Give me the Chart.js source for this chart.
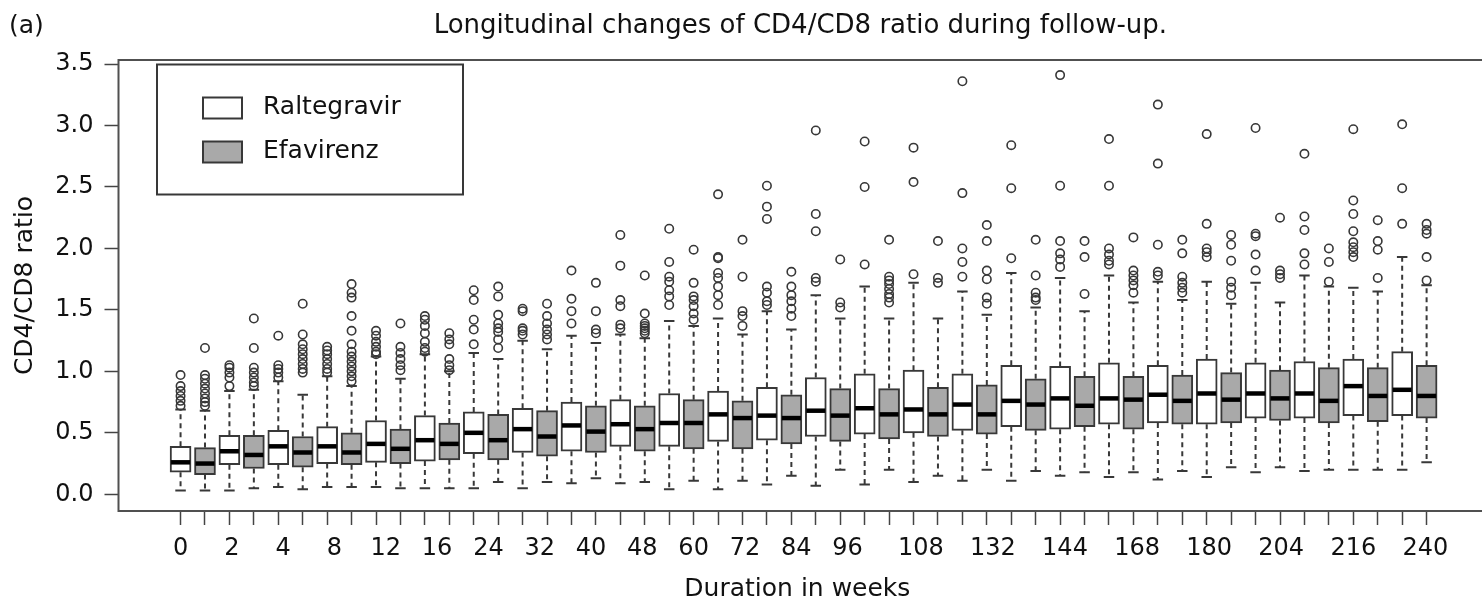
<!DOCTYPE html>
<html>
<head>
<meta charset="utf-8">
<script src="https://cdn.jsdelivr.net/npm/chart.js@4.4.1/dist/chart.umd.min.js"></script>
<style>
  html, body { margin: 0; padding: 0; background: #fff; }
  #wrap { width: 1482px; height: 605px; }
</style>
</head>
<body>
<div id="wrap"><canvas id="chart" width="1482" height="605"></canvas></div>
<script>
// CD4/CD8 ratio by week of follow-up, one box per drug per week (R style boxplot)

const weeks = [0, 2, 4, 8, 12, 16, 24, 32, 40, 48, 60, 72, 84, 96, 108, 120, 132, 144, 156, 168, 180, 192, 204, 216, 228, 240];

// labels that survived on the original axis, and where they sit (box units)
const weekLabels = ['0', '2', '4', '8', '12', '16', '24', '32', '40', '48', '60', '72', '84', '96', '108', '132', '144', '168', '180', '204', '216', '240'];
const weekLabelPos = [1.0, 3.1, 5.2, 7.3, 9.4, 11.5, 13.6, 15.7, 17.8, 19.9, 22.0, 24.1, 26.2, 28.3, 31.3, 34.25, 37.2, 40.15, 43.1, 46.05, 49.0, 51.95];

const yTicks = [0, 0.5, 1.0, 1.5, 2.0, 2.5, 3.0, 3.5];

// Raltegravir (white boxes)
const ralLow = [0.03, 0.03, 0.06, 0.06, 0.06, 0.05, 0.05, 0.05, 0.09, 0.09, 0.04, 0.04, 0.08, 0.07, 0.08, 0.10, 0.11, 0.11, 0.15, 0.14, 0.12, 0.14, 0.18, 0.19, 0.20, 0.20];
const ralQ1  = [0.18, 0.24, 0.24, 0.25, 0.26, 0.27, 0.33, 0.34, 0.35, 0.39, 0.39, 0.43, 0.44, 0.47, 0.49, 0.50, 0.52, 0.55, 0.53, 0.57, 0.58, 0.57, 0.62, 0.62, 0.64, 0.64];
const ralMed = [0.26, 0.35, 0.39, 0.39, 0.41, 0.44, 0.50, 0.53, 0.56, 0.57, 0.58, 0.65, 0.64, 0.68, 0.70, 0.69, 0.73, 0.76, 0.78, 0.78, 0.81, 0.82, 0.82, 0.82, 0.88, 0.85];
const ralQ3  = [0.39, 0.48, 0.52, 0.55, 0.60, 0.64, 0.67, 0.70, 0.75, 0.77, 0.82, 0.84, 0.87, 0.95, 0.98, 1.01, 0.98, 1.05, 1.04, 1.07, 1.05, 1.10, 1.07, 1.08, 1.10, 1.16];
const ralHigh = [0.69, 0.84, 0.92, 0.96, 1.12, 1.14, 1.15, 1.25, 1.29, 1.30, 1.41, 1.43, 1.49, 1.62, 1.69, 1.72, 1.65, 1.80, 1.76, 1.78, 1.73, 1.73, 1.72, 1.78, 1.68, 1.93];
const ralOut = [
  [0.97, 0.88, 0.84, 0.80, 0.76, 0.72],
  [1.05, 1.03, 0.99, 0.95, 0.88],
  [1.29, 1.05, 1.02, 0.99, 0.95],
  [1.20, 1.17, 1.14, 1.10, 1.06, 1.02, 0.99],
  [1.33, 1.29, 1.24, 1.20, 1.16, 1.14],
  [1.45, 1.42, 1.37, 1.31, 1.24, 1.19, 1.16],
  [1.66, 1.58, 1.42, 1.34, 1.22],
  [1.51, 1.49, 1.35, 1.33, 1.30],
  [1.82, 1.59, 1.49, 1.39],
  [2.11, 1.86, 1.58, 1.53, 1.38, 1.35],
  [2.16, 1.89, 1.77, 1.73, 1.66, 1.61, 1.54],
  [2.44, 1.93, 1.92, 1.80, 1.76, 1.69, 1.62, 1.54],
  [2.51, 2.34, 2.24, 1.69, 1.64, 1.57, 1.54],
  [2.96, 2.28, 2.14, 1.76, 1.73],
  [2.87, 2.50, 1.87],
  [2.82, 2.54, 1.79],
  [3.36, 2.45, 2.00, 1.89, 1.77],
  [2.84, 2.49, 1.92],
  [3.41, 2.51, 2.06, 1.96, 1.91, 1.85],
  [2.89, 2.51, 2.00, 1.95, 1.90, 1.87],
  [3.17, 2.69, 2.03, 1.81, 1.78],
  [2.93, 2.20, 2.00, 1.97, 1.93],
  [2.98, 2.12, 2.10, 1.95, 1.82],
  [2.77, 2.26, 2.15, 1.96, 1.87],
  [2.97, 2.39, 2.28, 2.14, 2.05, 2.01, 1.97, 1.93],
  [3.01, 2.49, 2.20]
];

// Efavirenz (grey boxes)
const efvLow = [0.03, 0.05, 0.04, 0.06, 0.05, 0.05, 0.10, 0.10, 0.13, 0.10, 0.11, 0.11, 0.15, 0.20, 0.20, 0.15, 0.20, 0.19, 0.18, 0.18, 0.19, 0.22, 0.22, 0.20, 0.20, 0.26];
const efvQ1  = [0.16, 0.21, 0.22, 0.24, 0.25, 0.28, 0.28, 0.31, 0.34, 0.35, 0.37, 0.37, 0.41, 0.43, 0.45, 0.47, 0.49, 0.52, 0.55, 0.53, 0.57, 0.58, 0.60, 0.58, 0.59, 0.62];
const efvMed = [0.25, 0.32, 0.34, 0.34, 0.37, 0.41, 0.44, 0.47, 0.51, 0.53, 0.58, 0.62, 0.62, 0.64, 0.65, 0.65, 0.65, 0.73, 0.72, 0.77, 0.76, 0.77, 0.78, 0.76, 0.80, 0.80];
const efvQ3  = [0.38, 0.48, 0.47, 0.50, 0.53, 0.58, 0.65, 0.68, 0.72, 0.72, 0.77, 0.76, 0.81, 0.86, 0.86, 0.87, 0.89, 0.94, 0.96, 0.96, 0.97, 0.99, 1.01, 1.03, 1.03, 1.05];
const efvHigh = [0.68, 0.85, 0.81, 0.88, 0.94, 1.00, 1.10, 1.18, 1.23, 1.27, 1.37, 1.30, 1.34, 1.43, 1.43, 1.43, 1.46, 1.52, 1.49, 1.56, 1.58, 1.55, 1.56, 1.69, 1.65, 1.70];
const efvOut = [
  [1.19, 0.97, 0.94, 0.90, 0.86, 0.82, 0.78, 0.75, 0.72],
  [1.43, 1.19, 1.03, 0.99, 0.95, 0.91, 0.88],
  [1.55, 1.30, 1.22, 1.18, 1.14, 1.10, 1.06, 1.02, 0.99],
  [1.71, 1.64, 1.60, 1.45, 1.33, 1.22, 1.16, 1.12, 1.08, 1.04, 1.00, 0.96, 0.92],
  [1.39, 1.20, 1.15, 1.10, 1.05, 1.01],
  [1.31, 1.26, 1.22, 1.10, 1.05, 1.01],
  [1.69, 1.61, 1.46, 1.39, 1.35, 1.32, 1.26, 1.19],
  [1.55, 1.45, 1.39, 1.34, 1.30, 1.26],
  [1.72, 1.49, 1.34, 1.31],
  [1.78, 1.47, 1.39, 1.37, 1.35, 1.33, 1.31],
  [1.99, 1.72, 1.61, 1.58, 1.53, 1.47, 1.42],
  [2.07, 1.77, 1.49, 1.45, 1.37],
  [1.81, 1.69, 1.62, 1.57, 1.51, 1.45],
  [1.91, 1.56, 1.52],
  [2.07, 1.77, 1.74, 1.71, 1.67, 1.63, 1.60, 1.56],
  [2.06, 1.76, 1.72],
  [2.19, 2.06, 1.82, 1.75, 1.60, 1.55],
  [2.07, 1.78, 1.64, 1.60, 1.58],
  [2.06, 1.93, 1.63],
  [2.09, 1.82, 1.78, 1.74, 1.70, 1.64],
  [2.07, 1.96, 1.77, 1.72, 1.68, 1.64],
  [2.11, 2.03, 1.90, 1.73, 1.68, 1.62],
  [2.25, 1.82, 1.79, 1.76],
  [2.00, 1.89, 1.73],
  [2.23, 2.06, 1.99, 1.76],
  [2.20, 2.15, 2.12, 1.93, 1.74]
];

const FONT = '"DejaVu Sans", "Noto Sans", sans-serif';
const INK = '#383838';
const TEXT = '#111';

// box n of week i: Raltegravir sits at 2i+1, Efavirenz at 2i+2
const groups = [
  { name: 'Raltegravir', fill: '#ffffff', offset: 1, low: ralLow, q1: ralQ1, med: ralMed, q3: ralQ3, high: ralHigh, out: ralOut },
  { name: 'Efavirenz', fill: '#a9a9a9', offset: 2, low: efvLow, q1: efvQ1, med: efvMed, q3: efvQ3, high: efvHigh, out: efvOut }
];
const boxPos = (g, i) => 2 * i + g.offset;

const barSets = groups.map(g => ({
  type: 'bar',
  label: g.name,
  data: weeks.map((w, i) => ({ x: boxPos(g, i), y: [g.q1[i], g.q3[i]] })),
  backgroundColor: g.fill,
  borderColor: INK,
  borderWidth: 2,
  borderSkipped: false,
  barThickness: 21,
  grouped: false
}));

const outlierSet = {
  type: 'scatter',
  label: 'outliers',
  data: groups.flatMap(g => g.out.flatMap((vals, i) => vals.map(v => ({ x: boxPos(g, i), y: v })))),
  pointStyle: 'circle',
  pointRadius: 4.2,
  pointBorderWidth: 1.6,
  pointBorderColor: INK,
  pointBackgroundColor: 'rgba(0,0,0,0)'
};

// x ticks: a mark under every box, plus the label-only ticks
const xTickList = [];
for (let n = 1; n <= weeks.length * 2; n++) xTickList.push({ value: n, box: true });
weekLabels.forEach((t, j) => xTickList.push({ value: weekLabelPos[j], text: t }));
xTickList.sort((a, b) => a.value - b.value);

// whiskers, caps and medians
const boxExtras = {
  id: 'boxExtras',
  afterDatasetsDraw(chart) {
    const { ctx, scales: { x, y } } = chart;
    ctx.save();
    groups.forEach((g, d) => {
      const meta = chart.getDatasetMeta(d);
      weeks.forEach((w, i) => {
        const px = x.getPixelForValue(boxPos(g, i));
        const half = meta.data[i].width / 2;
        const yLo = y.getPixelForValue(g.low[i]), yQ1 = y.getPixelForValue(g.q1[i]);
        const yQ3 = y.getPixelForValue(g.q3[i]), yHi = y.getPixelForValue(g.high[i]);
        const yMed = y.getPixelForValue(g.med[i]);
        ctx.strokeStyle = INK;
        ctx.lineWidth = 2;
        ctx.setLineDash([5, 4]);
        ctx.beginPath();
        ctx.moveTo(px, yQ3); ctx.lineTo(px, yHi);
        ctx.moveTo(px, yQ1); ctx.lineTo(px, yLo);
        ctx.stroke();
        ctx.setLineDash([]);
        ctx.beginPath();
        ctx.moveTo(px - half / 2, yHi); ctx.lineTo(px + half / 2, yHi);
        ctx.moveTo(px - half / 2, yLo); ctx.lineTo(px + half / 2, yLo);
        ctx.stroke();
        ctx.strokeStyle = '#000';
        ctx.lineWidth = 4.5;
        ctx.beginPath();
        ctx.moveTo(px - half + 1, yMed); ctx.lineTo(px + half - 1, yMed);
        ctx.stroke();
      });
    });
    ctx.restore();
  }
};

// plot frame, inset legend, panel letter and title
const decor = {
  id: 'decor',
  afterDraw(chart) {
    const { ctx, chartArea: a } = chart;
    ctx.save();
    ctx.strokeStyle = '#505050';
    ctx.lineWidth = 2;
    ctx.beginPath();
    ctx.moveTo(chart.width + 2, a.top); ctx.lineTo(a.left, a.top);
    ctx.lineTo(a.left, a.bottom); ctx.lineTo(chart.width + 2, a.bottom);
    ctx.stroke();

    const lx = a.left + 38.5, ly = a.top + 4.5;
    ctx.strokeStyle = INK;
    ctx.strokeRect(lx, ly, 306, 130);
    ctx.font = '25px ' + FONT;
    ctx.textBaseline = 'middle';
    ctx.textAlign = 'left';
    groups.forEach((g, k) => {
      const sy = ly + 33 + k * 44;
      ctx.fillStyle = g.fill;
      ctx.fillRect(lx + 46, sy, 39, 21);
      ctx.strokeStyle = INK;
      ctx.strokeRect(lx + 46, sy, 39, 21);
      ctx.fillStyle = TEXT;
      ctx.fillText(g.name, lx + 106, sy + 10);
    });

    ctx.fillStyle = TEXT;
    ctx.textBaseline = 'alphabetic';
    ctx.font = '25px ' + FONT;
    ctx.fillText('(a)', 9, 33);
    ctx.textAlign = 'center';
    ctx.font = '26px ' + FONT;
    ctx.fillText('Longitudinal changes of CD4/CD8 ratio during follow-up.', (a.left + a.right) / 2 + 3, 33);
    ctx.restore();
  }
};

new Chart(document.getElementById('chart'), {
  type: 'bar',
  data: { datasets: [...barSets, outlierSet] },
  options: {
    responsive: false,
    animation: false,
    layout: { padding: { top: 60, right: 0, left: 0, bottom: 0 } },
    plugins: { legend: { display: false }, tooltip: { enabled: false }, title: { display: false } },
    scales: {
      x: {
        type: 'linear',
        min: -1.54,
        max: 54.03,
        offset: false,
        afterBuildTicks: s => { s.ticks = xTickList.map(t => Object.assign({}, t)); },
        afterFit: s => { s.height = 94; },
        border: { display: false },
        grid: {
          drawOnChartArea: false,
          offset: false,
          tickLength: 14,
          tickWidth: 1.5,
          tickColor: c => (c.tick && c.tick.box) ? '#444' : 'rgba(0,0,0,0)'
        },
        ticks: {
          autoSkip: false,
          maxRotation: 0,
          minRotation: 0,
          padding: 9,
          color: TEXT,
          font: { family: FONT, size: 24 },
          callback: (v, i, t) => t[i].text || ''
        },
        title: { display: true, text: 'Duration in weeks', color: TEXT, font: { family: FONT, size: 25 }, padding: { top: 0, bottom: 1 } }
      },
      y: {
        min: -0.136,
        max: 3.533,
        afterBuildTicks: s => { s.ticks = yTicks.map(v => ({ value: v })); },
        afterFit: s => { s.width = 118.5; },
        border: { display: false },
        grid: { drawOnChartArea: false, tickLength: 14, tickWidth: 1.5, tickColor: '#444' },
        ticks: {
          padding: 11,
          color: TEXT,
          font: { family: FONT, size: 24 },
          callback: v => Number(v).toFixed(1)
        },
        title: { display: true, text: 'CD4/CD8 ratio', color: TEXT, font: { family: FONT, size: 25 }, padding: { top: 10, bottom: 0 } }
      }
    }
  },
  plugins: [boxExtras, decor]
});
</script>
</body>
</html>
